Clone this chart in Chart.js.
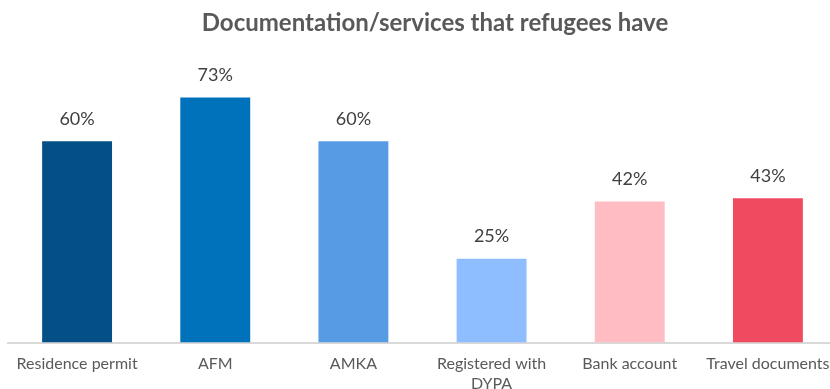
<!DOCTYPE html>
<html>
<head>
<meta charset="utf-8">
<script src="https://cdn.jsdelivr.net/npm/chart.js@4/dist/chart.umd.min.js"></script>
<style>
  html, body { margin: 0; padding: 0; background: #fff; overflow: hidden; }
  .wrap { position: relative; width: 830px; height: 389px; overflow: hidden; }
  .title {
    position: absolute; left: 0; top: 7px; width: 870px;
    text-align: center; font-family: Lato, sans-serif; font-weight: bold;
    font-size: 24px; color: #595959; line-height: 30px;
  }
  .chart-box { position: absolute; left: 0; top: 0; width: 845px; height: 414px; }
</style>
</head>
<body>
<div class="wrap">
  <div class="chart-box"><canvas id="barChart"></canvas></div>
  <div class="title">Documentation/services that refugees have</div>
</div>
<script>
const categories = ['Residence permit', 'AFM', 'AMKA', ['Registered with', 'DYPA'], 'Bank account', 'Travel documents'];
const shares = [60, 73, 60, 25, 42, 43];
const barColors = ['#044F85', '#0072BC', '#589BE5', '#8EBEFF', '#FFBCC3', '#EF4A60'];

// writes the percentage above each bar
const valueLabels = {
    id: 'valueLabels',
    afterDatasetsDraw(chart) {
        const ctx = chart.ctx;
        const meta = chart.getDatasetMeta(0);
        ctx.save();
        ctx.font = '18px Lato, sans-serif';
        ctx.fillStyle = '#404040';
        ctx.textAlign = 'center';
        ctx.textBaseline = 'middle';
        meta.data.forEach(function (bar, i) {
            ctx.fillText(shares[i] + '%', bar.x, bar.y - 22);
        });
        ctx.restore();
    }
};

function generateBarChart() {
    var ctx = document.getElementById('barChart').getContext('2d');
    var myChart = new Chart(ctx, {
        type: 'bar',
        data: {
            labels: categories,
            datasets: [{
                data: shares,
                backgroundColor: barColors,
                borderWidth: 0,
                barPercentage: 0.506,
                categoryPercentage: 1
            }]
        },
        options: {
            responsive: false,
            animation: false,
            devicePixelRatio: 1,
            layout: { padding: { left: 8, right: 8, top: 74, bottom: 9 } },
            plugins: {
                legend: { display: false },
                tooltip: { enabled: false }
            },
            scales: {
                y: { display: false, min: 0, max: 80 },
                x: {
                    grid: { display: false, drawTicks: false },
                    border: { display: true, color: '#D9D9D9', width: 2 },
                    ticks: {
                        color: '#595959',
                        padding: 12,
                        maxRotation: 0,
                        autoSkip: false,
                        font: { family: 'Lato', size: 16, lineHeight: 1.2 }
                    }
                }
            }
        },
        plugins: [valueLabels]
    });
}

const canvas = document.getElementById('barChart');
canvas.width = 845;
canvas.height = 414;
generateBarChart();
</script>
</body>
</html>
